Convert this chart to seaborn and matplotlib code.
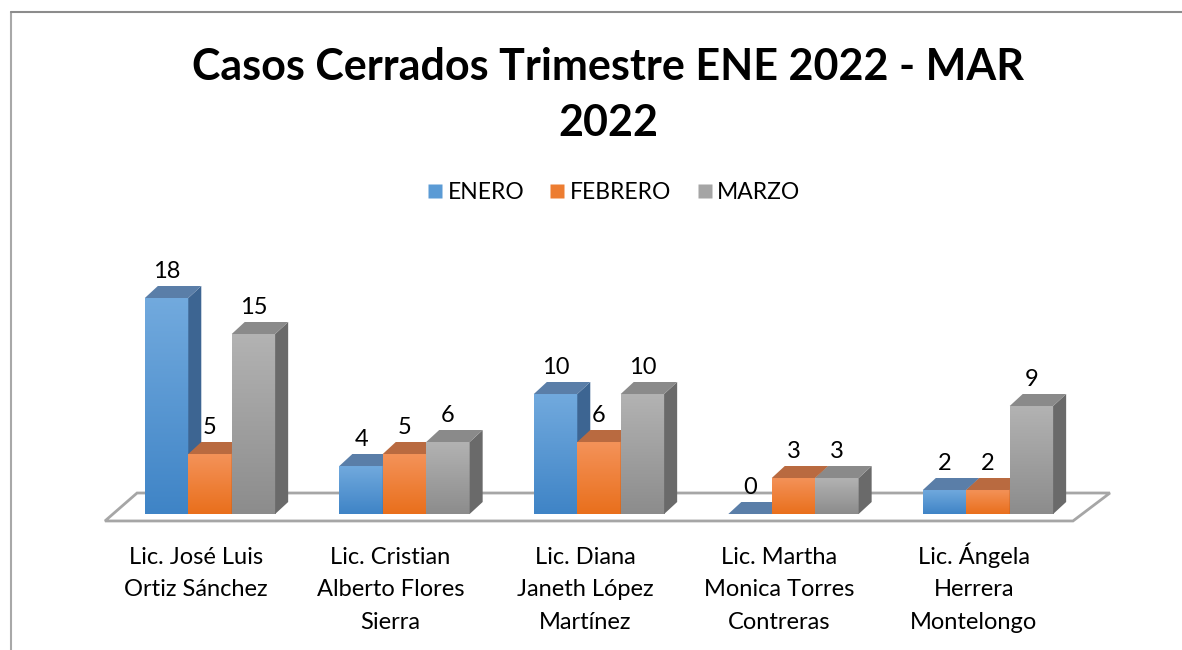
import numpy as np
import pandas as pd
import matplotlib
matplotlib.use("Agg")
import matplotlib.pyplot as plt
import matplotlib.colors as mcolors
import matplotlib.transforms as mtransforms
from matplotlib.patches import Polygon
from matplotlib.lines import Line2D
import seaborn as sns

# --- data ---
abogados = [
    "Lic. José Luis\nOrtiz Sánchez",
    "Lic. Cristian\nAlberto Flores\nSierra",
    "Lic. Diana\nJaneth López\nMartínez",
    "Lic. Martha\nMonica Torres\nContreras",
    "Lic. Ángela\nHerrera\nMontelongo",
]
meses = ["ENERO", "FEBRERO", "MARZO"]
enero = [18, 4, 10, 0, 2]
febrero = [5, 5, 6, 3, 2]
marzo = [15, 6, 10, 3, 9]

titulo = "Casos Cerrados Trimestre ENE 2022 - MAR\n2022"

# front (top, bottom), top face, side face colours per month
front_top = ["#72aade", "#f4935a", "#b3b3b3"]
front_bot = ["#3f84c6", "#e96f1c", "#8c8c8c"]
top_col = ["#5a7ea8", "#b96a40", "#8a8a8a"]
side_col = ["#3d6592", "#b4561a", "#6a6a6a"]
legend_col = ["#5b9bd5", "#ed7d31", "#a5a5a5"]

df = pd.DataFrame({
    "abogado": np.repeat(abogados, 3),
    "mes": meses * len(abogados),
    "casos": np.array([enero, febrero, marzo]).T.ravel(),
})

sns.set_theme(style="white")
plt.rcParams["font.family"] = ["Lato", "DejaVu Sans"]
plt.rcParams["text.color"] = "black"
plt.rcParams["xtick.color"] = "black"

W, H = 1182, 650
fig = plt.figure(figsize=(W / 100, H / 100), dpi=100)

# axes placed in pixel terms
ax_l, ax_r, ax_t, ax_b = 100, 1115, 250, 530
ax = fig.add_axes([ax_l / W, (H - ax_b) / H, (ax_r - ax_l) / W, (ax_b - ax_t) / H])

sns.barplot(data=df, x="abogado", y="casos", hue="mes", hue_order=meses,
            order=abogados, width=0.67, palette=legend_col, ax=ax,
            legend=False, saturation=1, zorder=3)

xlim = (-0.5656, 4.653)
ylim = (-1.333, 22.0)
ax.set_xlim(xlim)
ax.set_ylim(ylim)
px_x = (ax_r - ax_l) / (xlim[1] - xlim[0])
px_y = (ax_b - ax_t) / (ylim[1] - ylim[0])
dx = 13 / px_x
dy = 12 / px_y

# floor (pseudo 3-D plane)
n = len(abogados)
floor = Polygon([(-0.54, -0.58), (n - 1 + 0.437, -0.58),
                 (n - 1 + 0.627, 1.75), (-0.375, 1.75)],
                closed=True, facecolor="white", edgecolor="#a6a6a6",
                lw=2, zorder=1)
ax.add_patch(floor)

# give each bar a gradient face, a top and a side
grad = np.linspace(0, 1, 256).reshape(-1, 1)
order = []
for j, cont in enumerate(ax.containers):
    for i, bar in enumerate(cont):
        order.append((bar.get_x(), j, bar))
order.sort(key=lambda t: t[0])
for k, (_, j, bar) in enumerate(order):
    x0, w, h = bar.get_x(), bar.get_width(), bar.get_height()
    z = 3 + k * 0.01
    bar.set_zorder(z)
    bar.set_edgecolor("none")
    cmap = mcolors.LinearSegmentedColormap.from_list(
        "g", [front_bot[j], front_top[j]])
    if h > 0:
        im = ax.imshow(grad, extent=(x0, x0 + w, 0, h), origin="lower",
                       cmap=cmap, aspect="auto", zorder=z, interpolation="bilinear")
        im.set_clip_path(bar)
        side = Polygon([(x0 + w, 0), (x0 + w + dx, dy), (x0 + w + dx, h + dy),
                        (x0 + w, h)], closed=True, facecolor=side_col[j],
                       edgecolor="none", zorder=z)
        ax.add_patch(side)
    top = Polygon([(x0, h), (x0 + dx, h + dy), (x0 + w + dx, h + dy),
                   (x0 + w, h)], closed=True, facecolor=top_col[j],
                  edgecolor="none", zorder=z)
    ax.add_patch(top)
    ax.annotate(f"{int(h)}", (x0 + w / 2, h), xytext=(0, 16),
                textcoords="offset pixels", ha="center", va="bottom",
                fontsize=17, color="black", zorder=10)

ax.set_xlim(xlim)
ax.set_ylim(ylim)
ax.set_yticks([])
ax.set_xlabel("")
ax.set_ylabel("")
ax.tick_params(axis="x", length=0, pad=12, labelsize=17)

# line the first rows up even when they carry a capital accent (Á)
fig.canvas.draw()
renderer = fig.canvas.get_renderer()
for lab in ax.get_xticklabels():
    lab.set_linespacing(1.68)
    prop = lab.get_fontproperties()
    _, h1, d1 = renderer.get_text_width_height_descent(
        lab.get_text().split("\n")[0], prop, ismath=False)
    _, h0, d0 = renderer.get_text_width_height_descent("lp", prop, ismath=False)
    extra = max(0.0, (h1 - d1) - (h0 - d0))
    shift = mtransforms.ScaledTranslation(-14 / 100, extra / 100, fig.dpi_scale_trans)
    lab.set_transform(lab.get_transform() + shift)
for s in ax.spines.values():
    s.set_visible(False)
ax.patch.set_alpha(0)

# title and legend
fig.text(608 / W, 1 - 95 / H, titulo, ha="center", va="center",
         fontsize=31, fontweight="bold", linespacing=1.5, color="black")
handles = [Line2D([], [], marker="s", ls="none", markersize=10.5,
                  markerfacecolor=c, markeredgecolor="none") for c in legend_col]
fig.legend(handles, meses, loc="center", bbox_to_anchor=(612 / W, 1 - 193 / H),
           ncol=3, frameon=False, fontsize=16.5, handletextpad=0.05,
           columnspacing=0.95, handlelength=1.0)

# chart border
fig.add_artist(Line2D([11 / W, 11 / W], [0, 1 - 12 / H], color="#a8a8a8",
                      lw=1.5, transform=fig.transFigure))
fig.add_artist(Line2D([11 / W, 1], [1 - 12 / H, 1 - 12 / H], color="#8c8c8c",
                      lw=1.5, transform=fig.transFigure))

fig.savefig("out.png", dpi=100)
